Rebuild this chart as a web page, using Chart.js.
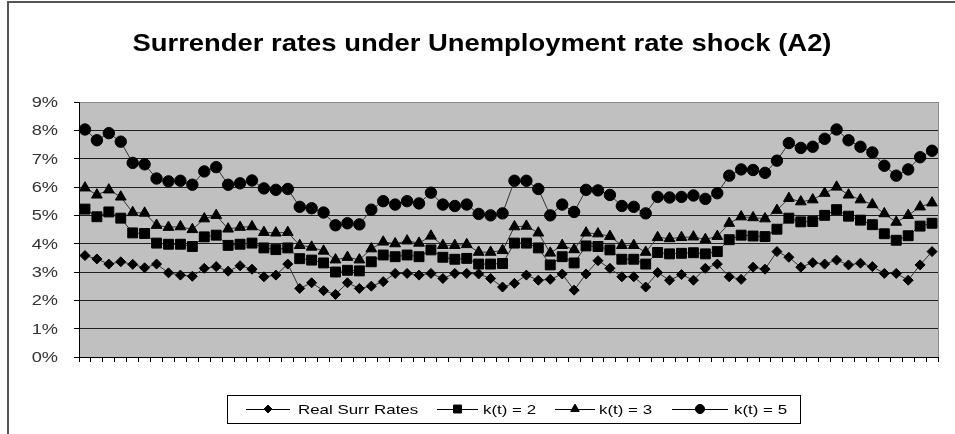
<!DOCTYPE html>
<html><head><meta charset="utf-8">
<script src="https://cdn.jsdelivr.net/npm/chart.js@4"></script>
<style>
html,body{margin:0;padding:0;background:#fff;}
#wrap{position:relative;width:955px;height:434px;overflow:hidden;background:#fff;}
#frame{position:absolute;left:7px;top:1px;right:-10px;bottom:-10px;border-left:2px solid #555;border-top:2px solid #555;pointer-events:none;}
canvas{position:absolute;left:0;top:0;}
</style></head><body>
<div id="wrap"><canvas id="c" width="955" height="434"></canvas><div id="frame"></div></div>
<script>
const chartTitle = 'Surrender rates under Unemployment rate shock (A2)';
const categories = [1,2,3,4,5,6,7,8,9,10,11,12,13,14,15,16,17,18,19,20,21,22,23,24,25,26,27,28,29,30,31,32,33,34,35,36,37,38,39,40,41,42,43,44,45,46,47,48,49,50,51,52,53,54,55,56,57,58,59,60,61,62,63,64,65,66,67,68,69,70,71,72];
const seriesNames = ['Real Surr Rates', 'k(t) = 2', 'k(t) = 3', 'k(t) = 5'];
const realSurrRates = [3.58,3.46,3.28,3.36,3.27,3.15,3.28,2.97,2.89,2.85,3.13,3.19,
  3.03,3.22,3.10,2.83,2.89,3.28,2.42,2.62,2.34,2.21,2.62,2.42,
  2.50,2.66,2.95,2.95,2.89,2.95,2.77,2.95,2.95,2.93,2.77,2.47,
  2.60,2.89,2.71,2.74,2.93,2.36,2.93,3.40,3.13,2.83,2.83,2.47,
  2.98,2.71,2.91,2.71,3.13,3.28,2.83,2.74,3.17,3.10,3.72,3.52,
  3.17,3.33,3.28,3.42,3.25,3.31,3.19,2.95,2.95,2.71,3.25,3.72];
const k2 = [5.22,4.95,5.12,4.90,4.38,4.36,4.02,3.98,3.98,3.90,4.24,4.30,
  3.94,3.98,4.02,3.85,3.79,3.85,3.47,3.42,3.32,3.00,3.06,3.04,
  3.36,3.60,3.54,3.60,3.54,3.78,3.52,3.45,3.48,3.28,3.28,3.30,
  4.02,4.02,3.85,3.25,3.54,3.32,3.92,3.90,3.78,3.45,3.45,3.28,
  3.69,3.64,3.66,3.68,3.64,3.72,4.14,4.30,4.27,4.25,4.51,4.90,
  4.77,4.78,5.00,5.20,4.97,4.83,4.67,4.35,4.12,4.28,4.62,4.72];
const k3 = [5.97,5.72,5.90,5.65,5.10,5.08,4.65,4.58,4.60,4.50,4.88,5.00,
  4.52,4.58,4.60,4.40,4.38,4.40,3.94,3.88,3.74,3.43,3.52,3.43,
  3.82,4.06,4.00,4.10,4.02,4.27,3.94,3.94,3.97,3.70,3.70,3.76,
  4.60,4.62,4.38,3.67,3.94,3.79,4.38,4.35,4.26,3.94,3.94,3.70,
  4.22,4.18,4.22,4.24,4.15,4.26,4.72,4.95,4.92,4.88,5.18,5.60,
  5.48,5.55,5.78,6.00,5.72,5.55,5.38,5.06,4.76,5.00,5.30,5.44];
const k5 = [8.03,7.65,7.90,7.60,6.85,6.80,6.30,6.20,6.22,6.08,6.55,6.70,
  6.08,6.13,6.23,5.95,5.90,5.93,5.30,5.25,5.10,4.65,4.72,4.68,
  5.20,5.50,5.38,5.50,5.42,5.80,5.38,5.33,5.38,5.05,5.00,5.07,
  6.22,6.22,5.93,5.00,5.38,5.12,5.90,5.88,5.72,5.33,5.30,5.07,
  5.65,5.63,5.65,5.70,5.58,5.78,6.40,6.62,6.60,6.50,6.93,7.55,
  7.38,7.42,7.70,8.03,7.65,7.42,7.22,6.75,6.40,6.62,7.05,7.28];
const yTickLabels = ['0%','1%','2%','3%','4%','5%','6%','7%','8%','9%'];

const markerStyles = ['rectRot', 'rect', 'triangle', 'circle'];
const markerRadius = [5, 7, 6.2, 5.7];
const seriesData = [realSurrRates, k2, k3, k5];

const datasets = seriesData.map((d, i) => ({
  label: seriesNames[i],
  data: d,
  borderColor: '#333',
  borderWidth: 1,
  backgroundColor: '#000',
  pointStyle: markerStyles[i],
  pointRadius: markerRadius[i],
  pointBackgroundColor: '#000',
  pointBorderColor: '#000',
  pointBorderWidth: 1,
  tension: 0,
  order: 4 - i
}));

function drawStretched(ctx, text, x, y, sx, align) {
  ctx.save();
  ctx.translate(x, y);
  ctx.scale(sx, 1);
  ctx.textAlign = align;
  ctx.fillText(text, 0, 0);
  ctx.restore();
}

const decor = {
  id: 'decor',
  beforeDraw(chart) {
    const {ctx, chartArea: a} = chart;
    ctx.save();
    ctx.fillStyle = '#C0C0C0';
    ctx.fillRect(a.left, a.top, a.right - a.left, a.bottom - a.top);
    ctx.restore();
  },
  afterDraw(chart) {
    const {ctx, chartArea: a} = chart;
    ctx.save();
    // plot area right border
    ctx.strokeStyle = '#8a8a8a';
    ctx.lineWidth = 1;
    ctx.beginPath();
    ctx.moveTo(a.right + 0.5, a.top);
    ctx.lineTo(a.right + 0.5, a.bottom);
    ctx.stroke();
    // title
    ctx.fillStyle = '#000';
    ctx.font = 'bold 24px "Liberation Sans", Arial, sans-serif';
    ctx.textBaseline = 'alphabetic';
    const tw = ctx.measureText(chartTitle).width;
    drawStretched(ctx, chartTitle, 482, 51, 699 / tw, 'center');
    // y tick labels
    const ys = chart.scales.y;
    ctx.font = '14px "Liberation Sans", Arial, sans-serif';
    ctx.fillStyle = '#333';
    ctx.textBaseline = 'middle';
    ys.ticks.forEach((t, i) => {
      const py = ys.getPixelForValue(t.value);
      drawStretched(ctx, yTickLabels[i], 58, py + 1, 1.3, 'right');
    });
    // legend
    ctx.strokeStyle = '#000';
    ctx.lineWidth = 1;
    ctx.strokeRect(227.5, 395.5, 573, 28);
    const ly = 409;
    const lines = [[246, 290, 298], [437, 478, 483], [555, 595, 599], [672, 728, 734]];
    ctx.font = '13px "Liberation Sans", Arial, sans-serif';
    chart.data.datasets.forEach((ds, i) => {
      const [x1, x2, tx] = lines[i];
      ctx.strokeStyle = '#000';
      ctx.lineWidth = 1;
      ctx.beginPath();
      ctx.moveTo(x1, ly + 0.5);
      ctx.lineTo(x2, ly + 0.5);
      ctx.stroke();
      ctx.fillStyle = '#000';
      Chart.helpers.drawPoint(ctx, {pointStyle: ds.pointStyle, radius: ds.pointRadius * 0.8, rotation: 0, borderWidth: 1}, (x1 + x2) / 2, ly);
      ctx.fillStyle = '#000';
      ctx.textBaseline = 'middle';
      drawStretched(ctx, ds.label, tx, ly + 1, 1.3, 'left');
    });
    ctx.restore();
  }
};

new Chart(document.getElementById('c'), {
  type: 'line',
  data: { labels: categories, datasets },
  options: {
    responsive: false,
    animation: false,
    layout: { padding: { left: 0, right: 17, top: 102, bottom: 72 } },
    plugins: { legend: { display: false }, title: { display: false }, tooltip: { enabled: false } },
    scales: {
      x: {
        type: 'category',
        offset: true,
        ticks: { display: false },
        grid: { offset: true, drawOnChartArea: false, drawTicks: true, tickLength: 5, color: '#000', lineWidth: 1 },
        border: { display: true, color: '#000', width: 1 },
        afterFit(s) { s.height = 5; }
      },
      y: {
        min: 0, max: 9,
        ticks: { display: false, stepSize: 1 },
        grid: {
          drawTicks: true, tickLength: 5, lineWidth: 1,
          color: (c) => (c.tick && c.tick.value === 9) ? '#8a8a8a' : '#1e1e1e',
          tickColor: '#000'
        },
        border: { display: true, color: '#000', width: 1 },
        afterFit(s) { s.width = 79; }
      }
    }
  },
  plugins: [decor]
});
</script>
</body></html>
